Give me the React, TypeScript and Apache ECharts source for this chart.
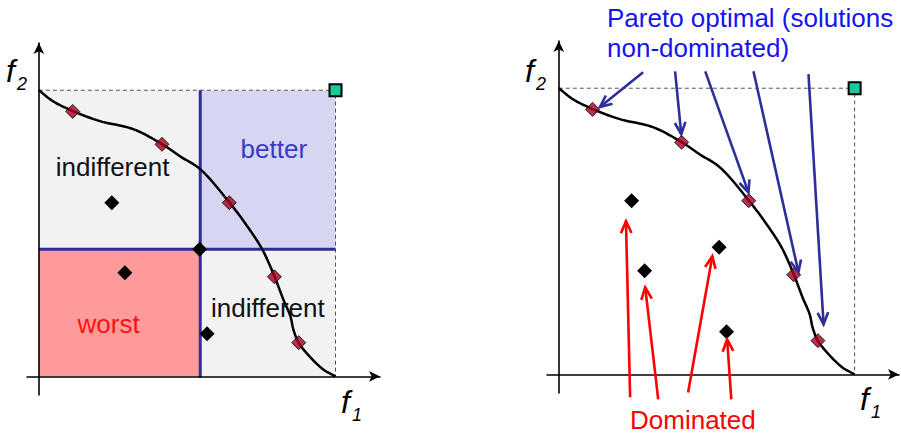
import React, { useEffect, useRef } from "react";
import * as echarts from "echarts";

// Pareto front curve (f1, f2)
const curveF1 = [0, 0.47, 1.15, 2.06, 3.18, 4.16, 4.76, 5.44, 6.42, 7.03, 7.53, 7.94, 8.24, 8.48, 8.58, 8.75, 9.16, 9.59, 10];
const curveF2 = [10, 9.62, 9.27, 8.92, 8.64, 8.11, 7.69, 7.24, 6.08, 5.24, 4.44, 3.5, 2.69, 2.1, 1.64, 1.19, 0.66, 0.24, 0];

// Pareto optimal solutions
const paretoF1 = [1.14, 4.15, 6.42, 7.94, 8.76];
const paretoF2 = [9.26, 8.11, 6.07, 3.48, 1.18];

// Dominated solutions
const dominatedF1 = [2.46, 5.42, 2.9, 5.67];
const dominatedF2 = [6.07, 4.44, 3.62, 1.49];

// Reference solution splitting the space (left panel)
const referenceF1 = 5.44;
const referenceF2 = 4.44;

// Bounding (nadir) corner
const boundF1 = 10;
const boundF2 = 10;

// Region names (left panel)
const regionNames = ["indifferent", "better", "worst", "indifferent"];

// Annotation arrows (right panel): [f1 start, f2 start, f1 end, f2 end]
const optimalArrows = [
  [2.85, 10.56, 1.39, 9.34],
  [3.93, 10.59, 4.14, 8.39],
  [4.95, 10.59, 6.41, 6.36],
  [6.58, 10.59, 8.1, 3.57],
  [8.44, 10.49, 8.95, 1.75],
];
const dominatedArrows = [
  [2.41, -0.8, 2.27, 5.35],
  [3.36, -0.87, 2.92, 3.04],
  [4.37, -0.63, 5.19, 4.13],
  [5.83, -0.87, 5.69, 1.22],
];

const titleLines = ["Pareto optimal (solutions", "non-dominated)"];
const dominatedLabel = "Dominated";

const FONT = "'Liberation Sans', Arial, sans-serif";

const X_MIN = -0.4;
const X_MAX = 11.5;
const Y_MIN = -0.65;
const Y_MAX = 11.65;

function axisPair(index: number) {
  const common = {
    type: "value" as const,
    gridIndex: index,
    axisTick: { show: false },
    axisLabel: { show: false },
    splitLine: { show: false },
    z: 5,
  };
  const line = {
    show: true,
    onZero: true,
    symbol: ["none", "arrow"],
    symbolSize: [8, 11],
    lineStyle: { color: "#000", width: 1.6 },
  };
  return {
    x: { ...common, min: X_MIN, max: X_MAX, axisLine: line },
    y: { ...common, min: Y_MIN, max: Y_MAX, axisLine: line },
  };
}

function arrowRenderer(color: string) {
  return (params: any, api: any) => {
    const p0 = api.coord([api.value(0), api.value(1)]);
    const p1 = api.coord([api.value(2), api.value(3)]);
    const ang = Math.atan2(p1[1] - p0[1], p1[0] - p0[0]);
    const L = 13;
    const a = 0.42;
    const h1 = [p1[0] - L * Math.cos(ang - a), p1[1] - L * Math.sin(ang - a)];
    const h2 = [p1[0] - L * Math.cos(ang + a), p1[1] - L * Math.sin(ang + a)];
    return {
      type: "group",
      children: [
        {
          type: "line",
          shape: { x1: p0[0], y1: p0[1], x2: p1[0], y2: p1[1] },
          style: { stroke: color, lineWidth: 2.6, fill: null },
        },
        {
          type: "polyline",
          shape: { points: [h1, p1, h2] },
          style: { stroke: color, lineWidth: 2.6, fill: null },
        },
      ],
    };
  };
}

// centripetal Catmull-Rom drawn through the curve points (in pixel space)
function curveRenderer(params: any, api: any) {
  if (params.dataIndex !== 0) return null;
  const pts: number[][] = curveF1.map((x, i) => api.coord([x, curveF2[i]]));
  const n = pts.length;
  const get = (i: number) => {
    if (i < 0) return [2 * pts[0][0] - pts[1][0], 2 * pts[0][1] - pts[1][1]];
    if (i >= n) return [2 * pts[n - 1][0] - pts[n - 2][0], 2 * pts[n - 1][1] - pts[n - 2][1]];
    return pts[i];
  };
  const dist = (a: number[], b: number[]) => Math.max(1e-6, Math.pow(Math.hypot(a[0] - b[0], a[1] - b[1]), 0.5));
  const lerp = (a: number[], b: number[], ta: number, tb: number, t: number) => {
    const w = (t - ta) / (tb - ta);
    return [a[0] * (1 - w) + b[0] * w, a[1] * (1 - w) + b[1] * w];
  };
  const out: number[][] = [pts[0]];
  for (let i = 0; i < n - 1; i++) {
    const p0 = get(i - 1), p1 = get(i), p2 = get(i + 1), p3 = get(i + 2);
    const t0 = 0;
    const t1 = t0 + dist(p0, p1);
    const t2 = t1 + dist(p1, p2);
    const t3 = t2 + dist(p2, p3);
    const steps = 12;
    for (let s = 1; s <= steps; s++) {
      const t = t1 + ((t2 - t1) * s) / steps;
      const A1 = lerp(p0, p1, t0, t1, t);
      const A2 = lerp(p1, p2, t1, t2, t);
      const A3 = lerp(p2, p3, t2, t3, t);
      const B1 = lerp(A1, A2, t0, t2, t);
      const B2 = lerp(A2, A3, t1, t3, t);
      out.push(lerp(B1, B2, t1, t2, t));
    }
  }
  return {
    type: "polyline",
    shape: { points: out },
    style: { stroke: "#000", lineWidth: 2.5, fill: null, lineJoin: "round" },
  };
}

function panelSeries(idx: number, withRegions: boolean) {
  const curve = curveF1.map((v, i) => [v, curveF2[i]]);
  const pareto = paretoF1.map((v, i) => [v, paretoF2[i]]);
  const dominated = dominatedF1.map((v, i) => [v, dominatedF2[i]]);
  const series: any[] = [];
  const box: any = {
    type: "line",
    xAxisIndex: idx,
    yAxisIndex: idx,
    data: [
      [0, boundF2],
      [boundF1, boundF2],
      [boundF1, 0],
    ],
    symbol: "none",
    lineStyle: { color: "#555", width: 1, type: [4, 3] },
    silent: true,
    z: 2,
  };
  if (withRegions) {
    const lbl = (color: string, offset: number[]) => ({
      show: true,
      position: "inside",
      color,
      fontSize: 26,
      fontFamily: FONT,
      offset,
    });
    box.markArea = {
      silent: true,
      data: [
        [
          { name: regionNames[0], coord: [0, referenceF2], itemStyle: { color: "#F2F2F2" }, label: lbl("#111", [-7, -3]) },
          { coord: [referenceF1, boundF2] },
        ],
        [
          { name: regionNames[1], coord: [referenceF1, referenceF2], itemStyle: { color: "#D6D6F3" }, label: lbl("#3A3AC6", [6, -21]) },
          { coord: [boundF1, boundF2] },
        ],
        [
          { name: regionNames[2], coord: [0, 0], itemStyle: { color: "#FF9A9A" }, label: lbl("#FF1010", [-11, 11]) },
          { coord: [referenceF1, referenceF2] },
        ],
        [
          { name: regionNames[3], coord: [referenceF1, 0], itemStyle: { color: "#F2F2F2" }, label: lbl("#111", [0, -5]) },
          { coord: [boundF1, referenceF2] },
        ],
      ],
    };
  }
  series.push(box);
  if (withRegions) {
    series.push({
      type: "line",
      xAxisIndex: idx,
      yAxisIndex: idx,
      data: [
        [referenceF1, -0.05],
        [referenceF1, boundF2],
      ],
      symbol: "none",
      lineStyle: { color: "#2E2E9A", width: 3 },
      silent: true,
      z: 3,
    });
    series.push({
      type: "line",
      xAxisIndex: idx,
      yAxisIndex: idx,
      data: [
        [0, referenceF2],
        [boundF1, referenceF2],
      ],
      symbol: "none",
      lineStyle: { color: "#2E2E9A", width: 3 },
      silent: true,
      z: 3,
    });
  }
  series.push({
    type: "custom",
    xAxisIndex: idx,
    yAxisIndex: idx,
    data: curve,
    encode: { x: 0, y: 1 },
    renderItem: curveRenderer,
    silent: true,
    clip: false,
    z: 6,
  });
  series.push({
    type: "scatter",
    xAxisIndex: idx,
    yAxisIndex: idx,
    data: pareto,
    symbol: "diamond",
    symbolSize: 14,
    itemStyle: { color: "#A2001F", borderColor: "#000", borderWidth: 1 },
    silent: true,
    z: 7,
  });
  series.push({
    type: "scatter",
    xAxisIndex: idx,
    yAxisIndex: idx,
    data: dominated,
    symbol: "diamond",
    symbolSize: 15,
    itemStyle: { color: "#000", opacity: 1 },
    silent: true,
    z: 7,
  });
  series.push({
    type: "scatter",
    xAxisIndex: idx,
    yAxisIndex: idx,
    data: [[boundF1, boundF2]],
    symbol: "rect",
    symbolSize: 12,
    itemStyle: { color: "#1DC99B", borderColor: "#000", borderWidth: 2, opacity: 1 },
    silent: true,
    z: 7,
  });
  return series;
}

function fLabel(x: number, y: number, sub: string) {
  return [
    {
      type: "text",
      x,
      y,
      style: { text: "f", font: `italic 32px ${FONT}`, fill: "#000", align: "left", verticalAlign: "middle" },
    },
    {
      type: "text",
      x: x + 11,
      y: y + 13,
      style: { text: sub, font: `italic 18px ${FONT}`, fill: "#000", align: "left", verticalAlign: "middle" },
    },
  ];
}

export default function App() {
  const ref = useRef<HTMLDivElement>(null);
  useEffect(() => {
    if (!ref.current) return;
    const chart = echarts.init(ref.current, undefined, { renderer: "svg" });
    const a0 = axisPair(0);
    const a1 = axisPair(1);
    const option: any = {
      animation: false,
      backgroundColor: "#fff",
      grid: [
        { left: 27, top: 43, width: 353, height: 352 },
        { left: 547, top: 41, width: 352, height: 352 },
      ],
      xAxis: [a0.x, a1.x],
      yAxis: [a0.y, a1.y],
      series: [
        ...panelSeries(0, true),
        ...panelSeries(1, false),
        {
          type: "custom",
          xAxisIndex: 1,
          yAxisIndex: 1,
          data: optimalArrows,
          encode: { x: [0, 2], y: [1, 3] },
          renderItem: arrowRenderer("#2E2E9A"),
          silent: true,
          clip: false,
          z: 10,
        },
        {
          type: "custom",
          xAxisIndex: 1,
          yAxisIndex: 1,
          data: dominatedArrows,
          encode: { x: [0, 2], y: [1, 3] },
          renderItem: arrowRenderer("#FF0000"),
          silent: true,
          clip: false,
          z: 10,
        },
      ],
      graphic: [
        ...fLabel(6, 71, "2"),
        ...fLabel(525, 71, "2"),
        ...fLabel(341, 402, "1"),
        ...fLabel(860, 399, "1"),
        {
          type: "text",
          x: 607,
          y: 18,
          style: { text: titleLines[0], font: `26px ${FONT}`, fill: "#1414F0", align: "left", verticalAlign: "middle" },
        },
        {
          type: "text",
          x: 607,
          y: 48,
          style: { text: titleLines[1], font: `26px ${FONT}`, fill: "#1414F0", align: "left", verticalAlign: "middle" },
        },
        {
          type: "text",
          x: 630,
          y: 420,
          style: { text: dominatedLabel, font: `26px ${FONT}`, fill: "#FF0000", align: "left", verticalAlign: "middle" },
        },
      ],
    };
    chart.setOption(option);
    return () => chart.dispose();
  }, []);
  return (
    <div
      ref={ref}
      style={{ position: "fixed", left: 0, top: 0, width: 901, height: 434, background: "#fff" }}
    />
  );
}
